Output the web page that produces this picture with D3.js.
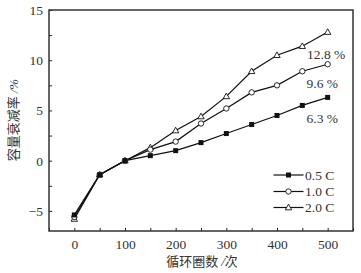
<!DOCTYPE html>
<html><head><meta charset="utf-8">
<script src="https://cdn.jsdelivr.net/npm/d3@7"></script>
<style>body{margin:0;background:#fff}svg{display:block}</style>
</head><body>
<script>
const cycles = [0,50,100,150,200,250,300,350,400,450,500];
const s05 = [-5.4,-1.4,0,0.5,1.0,1.8,2.7,3.6,4.5,5.5,6.3];
const s10 = [-5.6,-1.4,0,1.1,1.9,3.7,5.2,6.8,7.5,8.9,9.6];
const s20 = [-5.8,-1.4,0,1.3,3.0,4.4,6.4,8.9,10.5,11.4,12.8];
const seriesNames = ["0.5 C","1.0 C","2.0 C"];
const endLabels = ["6.3 %","9.6 %","12.8 %"];
const xTicks = [0,100,200,300,400,500];
const yTicks = [-5,0,5,10,15];

const W=361,H=273;
const L=49,R=353,T=10,B=231;
const svg=d3.select("body").append("svg").attr("width",W).attr("height",H);
const x=d3.scaleLinear().domain([-50,550]).range([L,R]);
const y=d3.scaleLinear().domain([-7,15]).range([B,T]);
const ink="#222";
const font="'Liberation Serif','Times New Roman',serif";

// ticks (inward)
const gx=svg.append("g").attr("transform",`translate(0,${B})`)
  .call(d3.axisTop(x).tickValues(d3.range(-50,551,50)).tickSize(3).tickFormat(""));
const gy=svg.append("g").attr("transform",`translate(${L},0)`)
  .call(d3.axisRight(y).tickValues(d3.range(-5,15.1,2.5)).tickSize(3).tickFormat(""));
[gx,gy].forEach(g=>{g.select(".domain").remove();g.selectAll("line").attr("stroke",ink).attr("stroke-width",1);});

// tick labels
const gxl=svg.append("g").attr("transform",`translate(0,${B})`)
  .call(d3.axisBottom(x).tickValues(xTicks).tickSize(0).tickPadding(8).tickFormat(d3.format("d")));
const gyl=svg.append("g").attr("transform",`translate(${L},0)`)
  .call(d3.axisLeft(y).tickValues(yTicks).tickSize(0).tickPadding(6).tickFormat(d=>d<0?"\u2212"+(-d):d));
[gxl,gyl].forEach(g=>{g.select(".domain").remove();g.selectAll("text").attr("font-family",font).attr("font-size",13.5).attr("fill","#333");});

// frame
svg.append("rect").attr("x",L).attr("y",T).attr("width",R-L).attr("height",B-T)
  .attr("fill","none").attr("stroke","#333").attr("stroke-width",1.5);

const data=[s05,s10,s20];
const line=d3.line().x((d,i)=>x(cycles[i])).y(d=>y(d));
data.forEach(s=>{
  svg.append("path").datum(s).attr("d",line).attr("fill","none").attr("stroke","#111").attr("stroke-width",1.2);
});
function marker(g,k,cx,cy){
  if(k===0) g.append("rect").attr("x",cx-2.5).attr("y",cy-2.5).attr("width",5).attr("height",5).attr("fill","#111");
  else if(k===1) g.append("circle").attr("cx",cx).attr("cy",cy).attr("r",2.7).attr("fill","#fff").attr("stroke","#111").attr("stroke-width",0.9);
  else g.append("path").attr("d",`M${cx},${cy-3.3}L${cx+3.2},${cy+2.3}L${cx-3.2},${cy+2.3}Z`).attr("fill","#fff").attr("stroke","#111").attr("stroke-width",0.9);
}
[2,1,0].forEach(k=>{
  const g=svg.append("g");
  data[k].forEach((v,i)=>marker(g,k,x(cycles[i]),y(v)));
});

// end labels
const lblY=[118,83.5,54.5];
endLabels.forEach((t,k)=>{
  svg.append("text").attr("x",k===2?307:306.5).attr("y",lblY[k]).attr("dy","0.35em")
    .attr("font-family",font).attr("font-size",13.5).attr("fill","#333").text(t);
});

// legend
const legY=[175,191.5,207.5];
seriesNames.forEach((n,k)=>{
  svg.append("line").attr("x1",273.5).attr("x2",303.5).attr("y1",legY[k]).attr("y2",legY[k]).attr("stroke","#111").attr("stroke-width",1.2);
  marker(svg.append("g"),k,288.5,legY[k]);
  svg.append("text").attr("x",305).attr("y",legY[k]).attr("dy","0.35em")
    .attr("font-family",font).attr("font-size",13.5).attr("fill","#333").text(n);
});

// axis titles
const xt=svg.append("text").attr("x",202).attr("y",266).attr("text-anchor","middle")
  .attr("font-family","'Noto Sans CJK SC',sans-serif").attr("font-size",13).attr("fill","#333");
xt.append("tspan").text("循环圈数 ");
xt.append("tspan").attr("font-family",font).attr("font-style","italic").text("/");
xt.append("tspan").text("次");
const yt=svg.append("text").attr("transform","translate(18,120) rotate(-90)").attr("text-anchor","middle")
  .attr("font-family","'Noto Sans CJK SC',sans-serif").attr("font-size",13).attr("fill","#333");
yt.append("tspan").text("容量衰减率 ");
yt.append("tspan").attr("font-family",font).attr("font-style","italic").text("/%");
</script>
</body></html>
